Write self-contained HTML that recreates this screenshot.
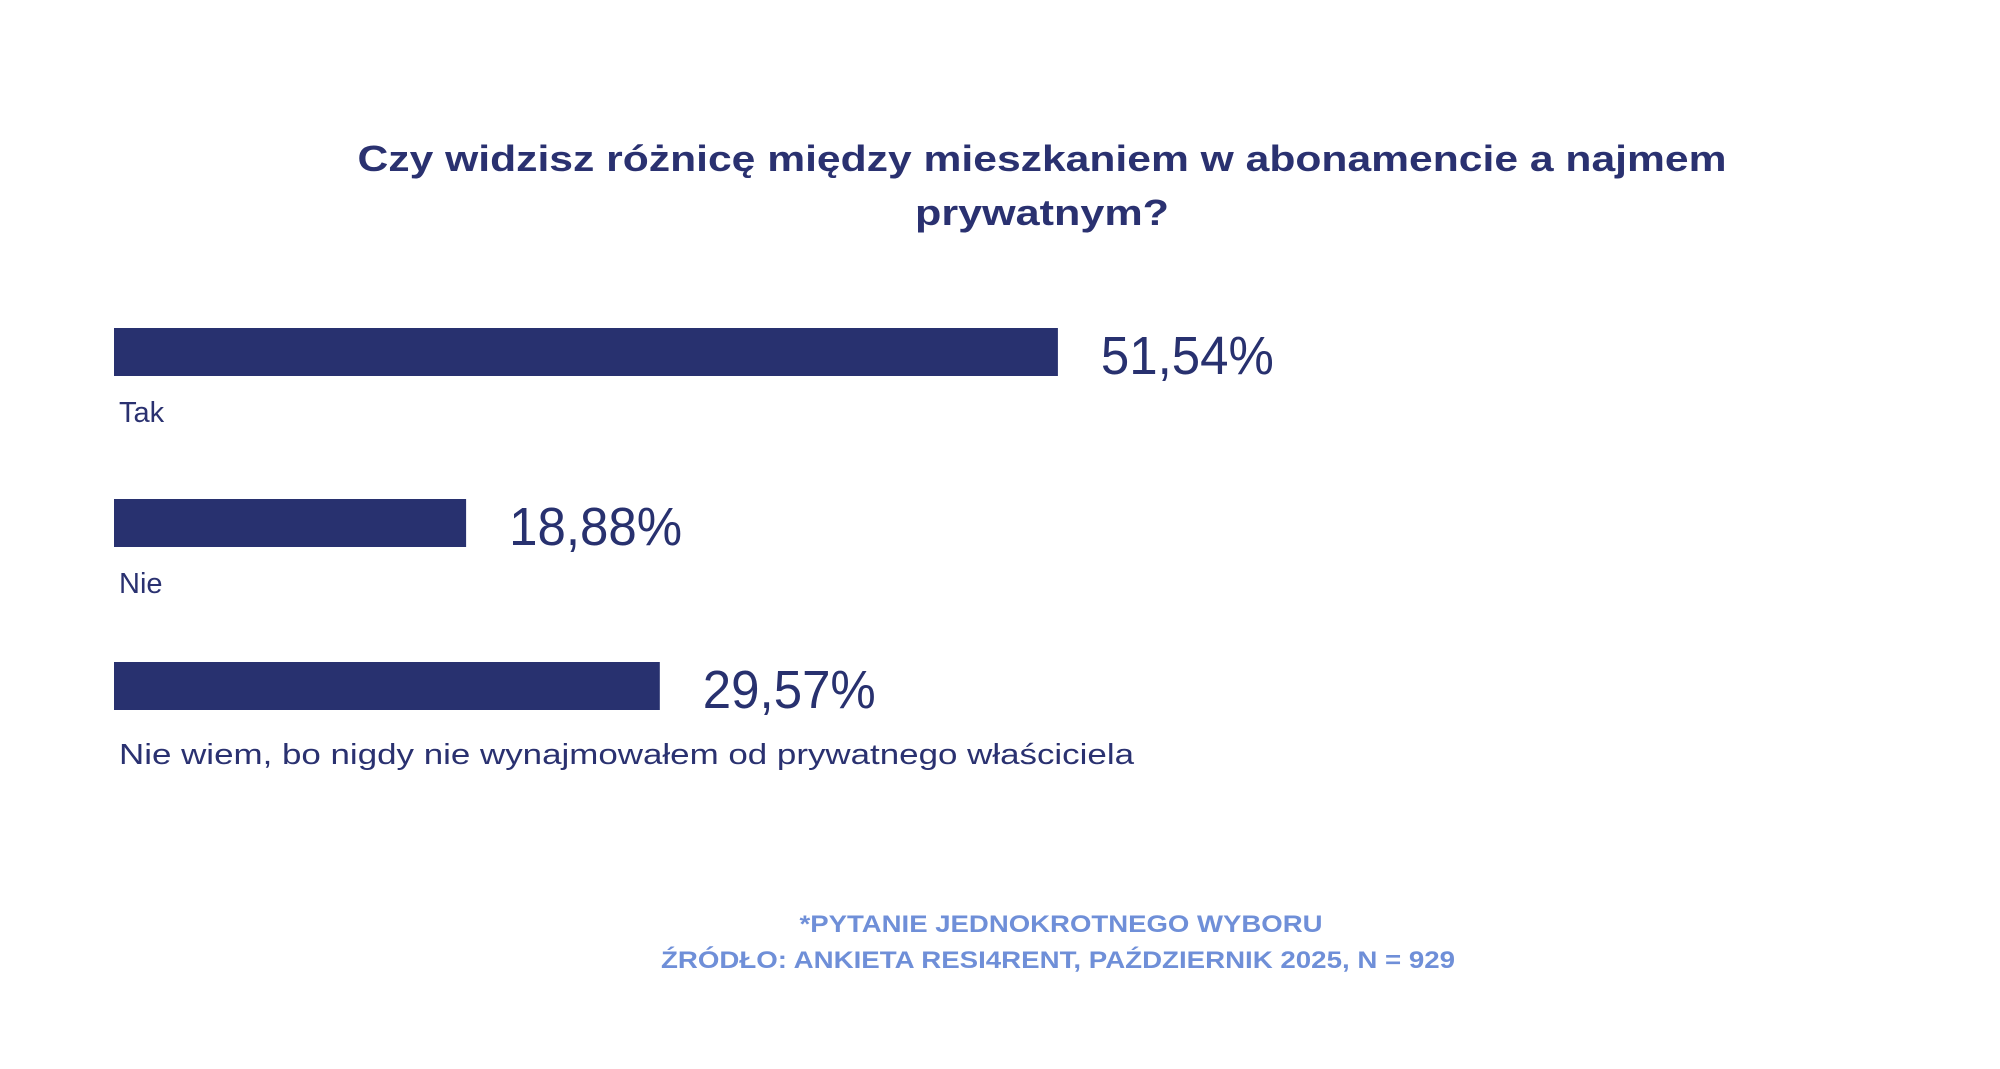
<!DOCTYPE html>
<html><head><meta charset="utf-8"><style>
html,body{margin:0;padding:0;background:#fff;}
svg{display:block;font-family:"Liberation Sans",sans-serif;}
</style></head><body>
<svg id="chart" width="2000" height="1069" viewBox="0 0 2000 1069">
<rect width="2000" height="1069" fill="#fff"/>
<text x="1042" y="171" text-anchor="middle" font-size="36" font-weight="bold" fill="#2a3170" textLength="1369" lengthAdjust="spacingAndGlyphs">Czy widzisz różnicę między mieszkaniem w abonamencie a najmem</text>
<text x="1042" y="225" text-anchor="middle" font-size="36" font-weight="bold" fill="#2a3170" textLength="254" lengthAdjust="spacingAndGlyphs">prywatnym?</text>
<g id="bars"></g>
<text x="1061" y="932" text-anchor="middle" font-size="24" font-weight="bold" fill="#6f8fd8" textLength="523" lengthAdjust="spacingAndGlyphs">*PYTANIE JEDNOKROTNEGO WYBORU</text>
<text x="1058" y="968" text-anchor="middle" font-size="24" font-weight="bold" fill="#6f8fd8" textLength="794" lengthAdjust="spacingAndGlyphs">ŹRÓDŁO: ANKIETA RESI4RENT, PAŹDZIERNIK 2025, N = 929</text>
</svg>
<script>
const categories = ["Tak", "Nie", "Nie wiem, bo nigdy nie wynajmowałem od prywatnego właściciela"];
const values = [51.54, 18.88, 29.57];
const valueLabels = ["51,54%", "18,88%", "29,57%"];

const NS = "http://www.w3.org/2000/svg";
const g = document.getElementById("bars");
const x0 = 114, base = 10, pxPerPct = 18.12;
function xScale(v){ return x0 + base + v * pxPerPct; }
const rowTops = [328, 499, 662];
const labelOffsets = [94, 94, 102];
const barH = 48;
function rowTop(i){ return rowTops[i]; }

categories.forEach((c, i) => {
  const y = rowTop(i);
  const r = document.createElementNS(NS, "rect");
  r.setAttribute("x", x0);
  r.setAttribute("y", y);
  r.setAttribute("width", xScale(values[i]) - x0);
  r.setAttribute("height", barH);
  r.setAttribute("fill", "#28316f");
  
  
  g.appendChild(r);

  const t = document.createElementNS(NS, "text");
  t.setAttribute("x", xScale(values[i]) + 43);
  t.setAttribute("y", y + 46);
  t.setAttribute("font-size", "54");
  t.setAttribute("fill", "#28316f");
  t.setAttribute("textLength", "173");
  t.setAttribute("lengthAdjust", "spacingAndGlyphs");
  t.textContent = valueLabels[i];
  
  
  g.appendChild(t);

  const l = document.createElementNS(NS, "text");
  l.setAttribute("x", 119);
  l.setAttribute("y", y + labelOffsets[i]);
  l.setAttribute("font-size", "29");
  l.setAttribute("fill", "#2a3170");
  if (i === 2) { l.setAttribute("textLength", "1015"); l.setAttribute("lengthAdjust", "spacingAndGlyphs"); }
  l.textContent = c;
  
  
  g.appendChild(l);
});
</script>
</body></html>
